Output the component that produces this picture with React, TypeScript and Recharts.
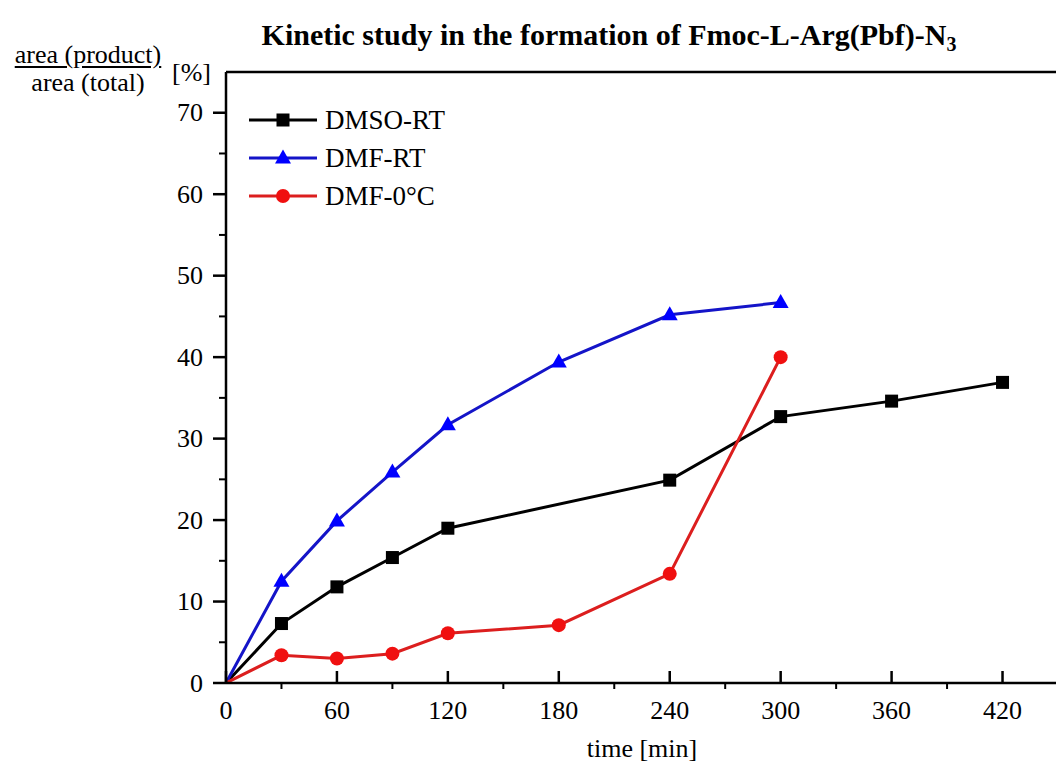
import React from 'react';
import { LineChart, Line, XAxis, YAxis, Legend } from 'recharts';

const dmsoTime = [0, 30, 60, 90, 120, 240, 300, 360, 420];
const dmsoArea = [0, 7.3, 11.8, 15.4, 19.0, 24.9, 32.7, 34.6, 36.9];
const dmfRtTime = [0, 30, 60, 90, 120, 180, 240, 300];
const dmfRtArea = [0, 12.5, 19.9, 25.9, 31.7, 39.4, 45.2, 46.7];
const dmf0Time = [0, 30, 60, 90, 120, 180, 240, 300];
const dmf0Area = [0, 3.4, 3.0, 3.6, 6.1, 7.1, 13.4, 40.0];

const xMajorTicks = [0, 60, 120, 180, 240, 300, 360, 420];
const xMinorTicks = [30, 90, 150, 210, 270, 330, 390];
const yMajorTicks = [0, 10, 20, 30, 40, 50, 60, 70];
const yMinorTicks = [5, 15, 25, 35, 45, 55, 65];
const seriesNames = ['DMSO-RT', 'DMF-RT', 'DMF-0°C'];
const seriesColors = ['#000000', '#1414c8', '#dc1e1e'];
const markerColors = ['#000000', '#0000ff', '#f01010'];
const markerKinds = ['square', 'triangle', 'circle'];

const zip = (t: number[], v: number[]) => t.map((time, i) => ({ time, value: v[i] }));
const dmsoData = zip(dmsoTime, dmsoArea);
const dmfRtData = zip(dmfRtTime, dmfRtArea);
const dmf0Data = zip(dmf0Time, dmf0Area);
const xAllTicks = [...xMajorTicks, ...xMinorTicks].sort((a, b) => a - b);
const yAllTicks = [...yMajorTicks, ...yMinorTicks].sort((a, b) => a - b);

const FONT = '"Liberation Serif", "Times New Roman", serif';
const THIN = 0.01;
const MAJOR_W = 2.5;
const MINOR_W = 2;

function Marker({ kind, cx, cy, color }: { kind: string; cx: number; cy: number; color: string }) {
  if (kind === 'square') return <rect x={cx - 6.5} y={cy - 6.5} width={13} height={13} fill={color} />;
  if (kind === 'triangle')
    return <polygon points={`${cx},${cy - 8.5} ${cx - 8},${cy + 5.5} ${cx + 8},${cy + 5.5}`} fill={color} />;
  return <circle cx={cx} cy={cy} r={7} fill={color} />;
}

const makeDot = (idx: number) => (props: any) => {
  const { cx, cy, index } = props;
  if (cx == null || cy == null || index === 0) return <g key={`d${idx}-${index}`} />;
  return (
    <g key={`d${idx}-${index}`}>
      <Marker kind={markerKinds[idx]} cx={cx} cy={cy} color={markerColors[idx]} />
    </g>
  );
};

const isMajorX = (v: number) => xMajorTicks.includes(v);
const isMajorY = (v: number) => yMajorTicks.includes(v);

const BottomTick = (props: any) => {
  const { x, y, payload } = props;
  const v = payload.value;
  if (isMajorX(v)) {
    return (
      <g>
        <line x1={x} x2={x} y1={y} y2={y - 12} stroke="#000" strokeWidth={MAJOR_W} />
        <text x={x} y={y + 27} textAnchor="middle" dominantBaseline="central" fontFamily={FONT} fontSize={26} fill="#000">
          {v}
        </text>
      </g>
    );
  }
  return <line x1={x} x2={x} y1={y} y2={y + 6} stroke="#000" strokeWidth={MINOR_W} />;
};

const TopTick = (props: any) => {
  const { x, y, payload } = props;
  const major = isMajorX(payload.value);
  return <line x1={x} x2={x} y1={y} y2={y + (major ? 10 : 5)} stroke="#000" strokeWidth={major ? MAJOR_W : MINOR_W} />;
};

const LeftTick = (props: any) => {
  const { x, y, payload } = props;
  const v = payload.value;
  if (isMajorY(v)) {
    return (
      <g>
        <line x1={x} x2={x - 13} y1={y} y2={y} stroke="#000" strokeWidth={MAJOR_W} />
        <text x={x - 23} y={y} textAnchor="end" dominantBaseline="central" fontFamily={FONT} fontSize={26} fill="#000">
          {v}
        </text>
      </g>
    );
  }
  return <line x1={x} x2={x - 7} y1={y} y2={y} stroke="#000" strokeWidth={MINOR_W} />;
};

const RightTick = (props: any) => {
  const { x, y, payload } = props;
  const major = isMajorY(payload.value);
  return <line x1={x} x2={x - (major ? 10 : 5)} y1={y} y2={y} stroke="#000" strokeWidth={major ? MAJOR_W : MINOR_W} />;
};

const LegendContent = () => (
  <svg width={260} height={120} style={{ display: 'block' }}>
    {seriesNames.map((name, i) => {
      const y = 18 + i * 38;
      return (
        <g key={name}>
          <line x1={0} x2={68} y1={y} y2={y} stroke={seriesColors[i]} strokeWidth={3} />
          <Marker kind={markerKinds[i]} cx={34} cy={y} color={markerColors[i]} />
          <text x={76} y={y} dominantBaseline="central" fontFamily={FONT} fontSize={27} fill="#000">
            {name}
          </text>
        </g>
      );
    })}
  </svg>
);

export default function App() {
  const axisLine = { stroke: '#000', strokeWidth: MAJOR_W };
  return (
    <div style={{ position: 'absolute', left: 0, top: 0, width: 1056, height: 764, overflow: 'hidden', background: '#fff' }}>
      <div
        style={{
          position: 'absolute',
          left: 0,
          top: 15,
          width: 1218,
          textAlign: 'center',
          fontFamily: FONT,
          fontWeight: 'bold',
          fontSize: 30,
          lineHeight: '40px',
          color: '#000',
        }}
      >
        Kinetic study in the formation of Fmoc-L-Arg(Pbf)-N<sub style={{ fontSize: 20, verticalAlign: '-6px' }}>3</sub>
      </div>
      <div style={{ position: 'absolute', left: 8, top: 41, width: 160, textAlign: 'center', fontFamily: FONT, fontSize: 26, lineHeight: '28px', color: '#000' }}>
        <div style={{ textDecoration: 'underline', textUnderlineOffset: '3px' }}>area (product)</div>
        <div>area (total)</div>
      </div>
      <div style={{ position: 'absolute', left: 172, top: 58, fontFamily: FONT, fontSize: 26, lineHeight: '30px', color: '#000' }}>[%]</div>
      <LineChart width={1060} height={764} margin={{ top: 72, right: 2, bottom: 0, left: 126 }}>
        <XAxis
          xAxisId="x"
          dataKey="time"
          type="number"
          domain={[0, 450]}
          ticks={xAllTicks}
          interval={0}
          allowDataOverflow
          height={81}
          tickSize={0}
          tickMargin={0}
          axisLine={axisLine}
          tickLine={false}
          tick={BottomTick}
          label={{ value: 'time [min]', position: 'insideBottom', offset: 7, style: { fontFamily: FONT, fontSize: 26, fill: '#000' } }}
        />
        <XAxis
          xAxisId="xTop"
          orientation="top"
          type="number"
          domain={[0, 450]}
          ticks={xAllTicks}
          interval={0}
          height={THIN}
          tickSize={0}
          tickMargin={0}
          axisLine={axisLine}
          tickLine={false}
          tick={TopTick}
        />
        <YAxis
          yAxisId="y"
          type="number"
          domain={[0, 75]}
          ticks={yAllTicks}
          interval={0}
          allowDataOverflow
          width={100}
          tickSize={0}
          tickMargin={0}
          axisLine={axisLine}
          tickLine={false}
          tick={LeftTick}
        />
        <YAxis
          yAxisId="yRight"
          orientation="right"
          type="number"
          domain={[0, 75]}
          ticks={yAllTicks}
          interval={0}
          width={THIN}
          tickSize={0}
          tickMargin={0}
          axisLine={axisLine}
          tickLine={false}
          tick={RightTick}
        />
        <Legend
          layout="vertical"
          align="center"
          verticalAlign="middle"
          content={() => <LegendContent />}
          wrapperStyle={{ position: 'absolute', left: 249, top: 102, width: 260, height: 120 }}
        />
        <Line
          xAxisId="x"
          yAxisId="y"
          data={dmsoData}
          dataKey="value"
          name={seriesNames[0]}
          stroke={seriesColors[0]}
          strokeWidth={3}
          dot={makeDot(0)}
          isAnimationActive={false}
        />
        <Line
          xAxisId="x"
          yAxisId="y"
          data={dmfRtData}
          dataKey="value"
          name={seriesNames[1]}
          stroke={seriesColors[1]}
          strokeWidth={3}
          dot={makeDot(1)}
          isAnimationActive={false}
        />
        <Line
          xAxisId="x"
          yAxisId="y"
          data={dmf0Data}
          dataKey="value"
          name={seriesNames[2]}
          stroke={seriesColors[2]}
          strokeWidth={3}
          dot={makeDot(2)}
          isAnimationActive={false}
        />
      </LineChart>
    </div>
  );
}
